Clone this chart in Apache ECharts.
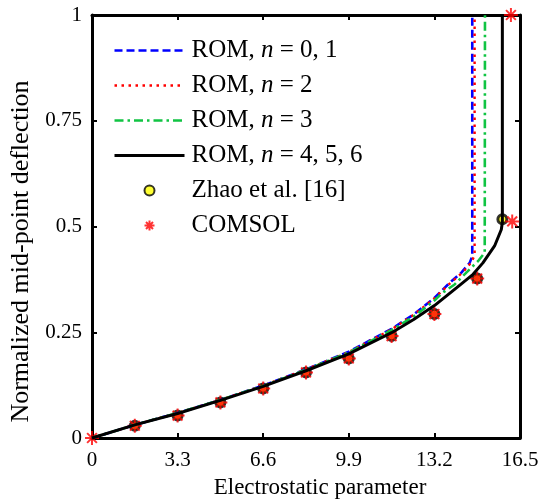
<!DOCTYPE html>
<html>
<head>
<meta charset="utf-8">
<script src="https://cdn.jsdelivr.net/npm/echarts@6/dist/echarts.min.js"></script>
<style>
  html, body { margin: 0; padding: 0; background: #fff; }
  #chart { width: 545px; height: 504px; }
</style>
</head>
<body>
<div id="chart"></div>
<script>
// Reduced-order model curves: normalized mid-point deflection vs electrostatic parameter
const rom01X = [0, 1.65, 3.3, 4.95, 6.6, 8.25, 9.9, 11.55, 12.4, 13.2, 13.79, 14.24, 14.56, 14.66, 14.66];
const rom01Y = [0, 0.031, 0.059, 0.090, 0.124, 0.162, 0.204, 0.258, 0.292, 0.331, 0.367, 0.391, 0.414, 0.43, 1.0];

const rom2X = [0, 1.65, 3.3, 4.95, 6.6, 8.25, 9.9, 11.55, 12.4, 13.2, 13.79, 14.3, 14.62, 14.75, 14.75];
const rom2Y = [0, 0.031, 0.059, 0.090, 0.124, 0.162, 0.203, 0.257, 0.291, 0.330, 0.365, 0.392, 0.415, 0.432, 1.0];

const rom3X = [0, 1.65, 3.3, 4.95, 6.6, 8.25, 9.9, 11.55, 12.4, 13.2, 13.53, 13.98, 14.43, 14.88, 15.14, 15.15];
const rom3Y = [0, 0.031, 0.059, 0.090, 0.123, 0.161, 0.202, 0.255, 0.287, 0.325, 0.344, 0.363, 0.391, 0.418, 0.438, 1.0];

const rom456X = [0, 1.65, 3.3, 4.95, 6.6, 8.25, 9.9, 11.55, 12.4, 13.2, 14.05, 14.69, 15.07, 15.52, 15.78, 15.82, 15.82];
const rom456Y = [0, 0.031, 0.058, 0.089, 0.122, 0.159, 0.199, 0.249, 0.280, 0.313, 0.355, 0.387, 0.414, 0.454, 0.493, 0.51, 1.0];

// Reference results
const zhaoX = [1.65, 3.3, 4.95, 6.6, 8.25, 9.9, 11.55, 13.2, 14.85, 15.82];
const zhaoY = [0.029, 0.053, 0.084, 0.117, 0.155, 0.188, 0.241, 0.293, 0.377, 0.517];

const comsolX = [0, 1.65, 3.3, 4.95, 6.6, 8.25, 9.9, 11.55, 13.2, 14.85, 16.2, 16.15];
const comsolY = [0, 0.029, 0.053, 0.084, 0.117, 0.155, 0.188, 0.241, 0.293, 0.377, 0.512, 1.0];

// Axis tick labels
const xTickLabels = ['0', '3.3', '6.6', '9.9', '13.2', '16.5'];
const yTickLabels = ['0', '0.25', '0.5', '0.75', '1'];

const seriesNames = ['ROM, n = 0, 1', 'ROM, n = 2', 'ROM, n = 3', 'ROM, n = 4, 5, 6', 'Zhao et al. [16]', 'COMSOL'];
const lineWidths = [2.6, 2.4, 2.6, 3];

const FONT = '"Liberation Serif", "Times New Roman", serif';
const STAR = 'path://M10,0L10,20M0,10L20,10M3,3L17,17M3,17L17,3';

function pairs(xs, ys) { return xs.map((x, i) => [x, ys[i]]); }

function romLine(i, xs, ys, color, dash) {
  return {
    name: seriesNames[i],
    type: 'line',
    data: pairs(xs, ys),
    symbol: 'none',
    clip: false,
    color: color,
    lineStyle: { color: color, width: lineWidths[i], type: dash, cap: 'butt' },
    emphasis: { disabled: true }
  };
}

// Legend entries: line series show only their stroke, marker series show their symbol
const legendData = seriesNames.map((name, i) =>
  i < 4
    ? { name: name, itemStyle: { opacity: 0, borderWidth: 0 }, lineStyle: { width: lineWidths[i] } }
    : { name: name }
);

const frame = { show: true, onZero: false, lineStyle: { color: '#000', width: 3 } };
const innerTick = { show: true, inside: true, length: 5, lineStyle: { color: '#000', width: 2 } };

const chart = echarts.init(document.getElementById('chart'), null, { renderer: 'canvas' });

chart.setOption({
  animation: false,
  backgroundColor: '#fff',
  grid: { left: 92, right: 25, top: 15, bottom: 64 },
  legend: {
    orient: 'vertical',
    left: 113,
    top: 38,
    padding: 0,
    itemWidth: 70,
    itemHeight: 10,
    itemGap: 10,
    selectedMode: false,
    data: legendData,
    formatter: name => name.replace(' n ', ' {i|n} '),
    textStyle: {
      fontFamily: FONT,
      fontSize: 25,
      color: '#000',
      padding: [0, 0, 0, 2],
      rich: { i: { fontFamily: FONT, fontSize: 25, fontStyle: 'italic', color: '#000' } }
    }
  },
  xAxis: [
    {
      type: 'value', min: 0, max: 16.5, interval: 3.3, position: 'bottom',
      axisLine: frame, axisTick: innerTick, splitLine: { show: false },
      axisLabel: {
        fontFamily: FONT, fontSize: 21, color: '#000', margin: 12,
        formatter: v => xTickLabels[Math.round(v / 3.3)]
      },
      name: 'Electrostatic parameter', nameLocation: 'middle', nameGap: 38,
      nameTextStyle: { fontFamily: FONT, fontSize: 23, color: '#000', padding: [0, 0, 0, 28] }
    },
    {
      type: 'value', min: 0, max: 16.5, interval: 3.3, position: 'top',
      axisLine: frame, axisTick: innerTick, splitLine: { show: false },
      axisLabel: { show: false }
    }
  ],
  yAxis: [
    {
      type: 'value', min: 0, max: 1, interval: 0.25, position: 'left',
      axisLine: frame, axisTick: innerTick, splitLine: { show: false },
      axisLabel: {
        fontFamily: FONT, fontSize: 21, color: '#000', margin: 10,
        formatter: v => yTickLabels[Math.round(v / 0.25)]
      },
      name: 'Normalized mid-point deflection', nameLocation: 'middle', nameGap: 58,
      nameTextStyle: { fontFamily: FONT, fontSize: 26, color: '#000', padding: [0, 50, 0, 0] }
    },
    {
      type: 'value', min: 0, max: 1, interval: 0.25, position: 'right',
      axisLine: frame, axisTick: innerTick, splitLine: { show: false },
      axisLabel: { show: false }
    }
  ],
  series: [
    romLine(0, rom01X, rom01Y, '#0000ff', [8, 4]),
    romLine(1, rom2X, rom2Y, '#ff0000', [2.5, 4.5]),
    romLine(2, rom3X, rom3Y, '#10c443', [9, 4, 2.5, 4]),
    romLine(3, rom456X, rom456Y, '#000000', 'solid'),
    {
      name: seriesNames[4],
      type: 'scatter',
      data: pairs(zhaoX, zhaoY),
      symbol: 'circle',
      symbolSize: 9,
      clip: false,
      color: '#ffff00',
      itemStyle: { color: '#ffff00', borderColor: '#000', borderWidth: 3 },
      emphasis: { disabled: true }
    },
    {
      name: seriesNames[5],
      type: 'scatter',
      data: pairs(comsolX, comsolY),
      symbol: STAR,
      symbolSize: 14,
      clip: false,
      color: '#ff0000',
      itemStyle: { color: '#ff0000', borderColor: '#ff0000', borderWidth: 2 },
      emphasis: { disabled: true }
    }
  ]
});
</script>
</body>
</html>
